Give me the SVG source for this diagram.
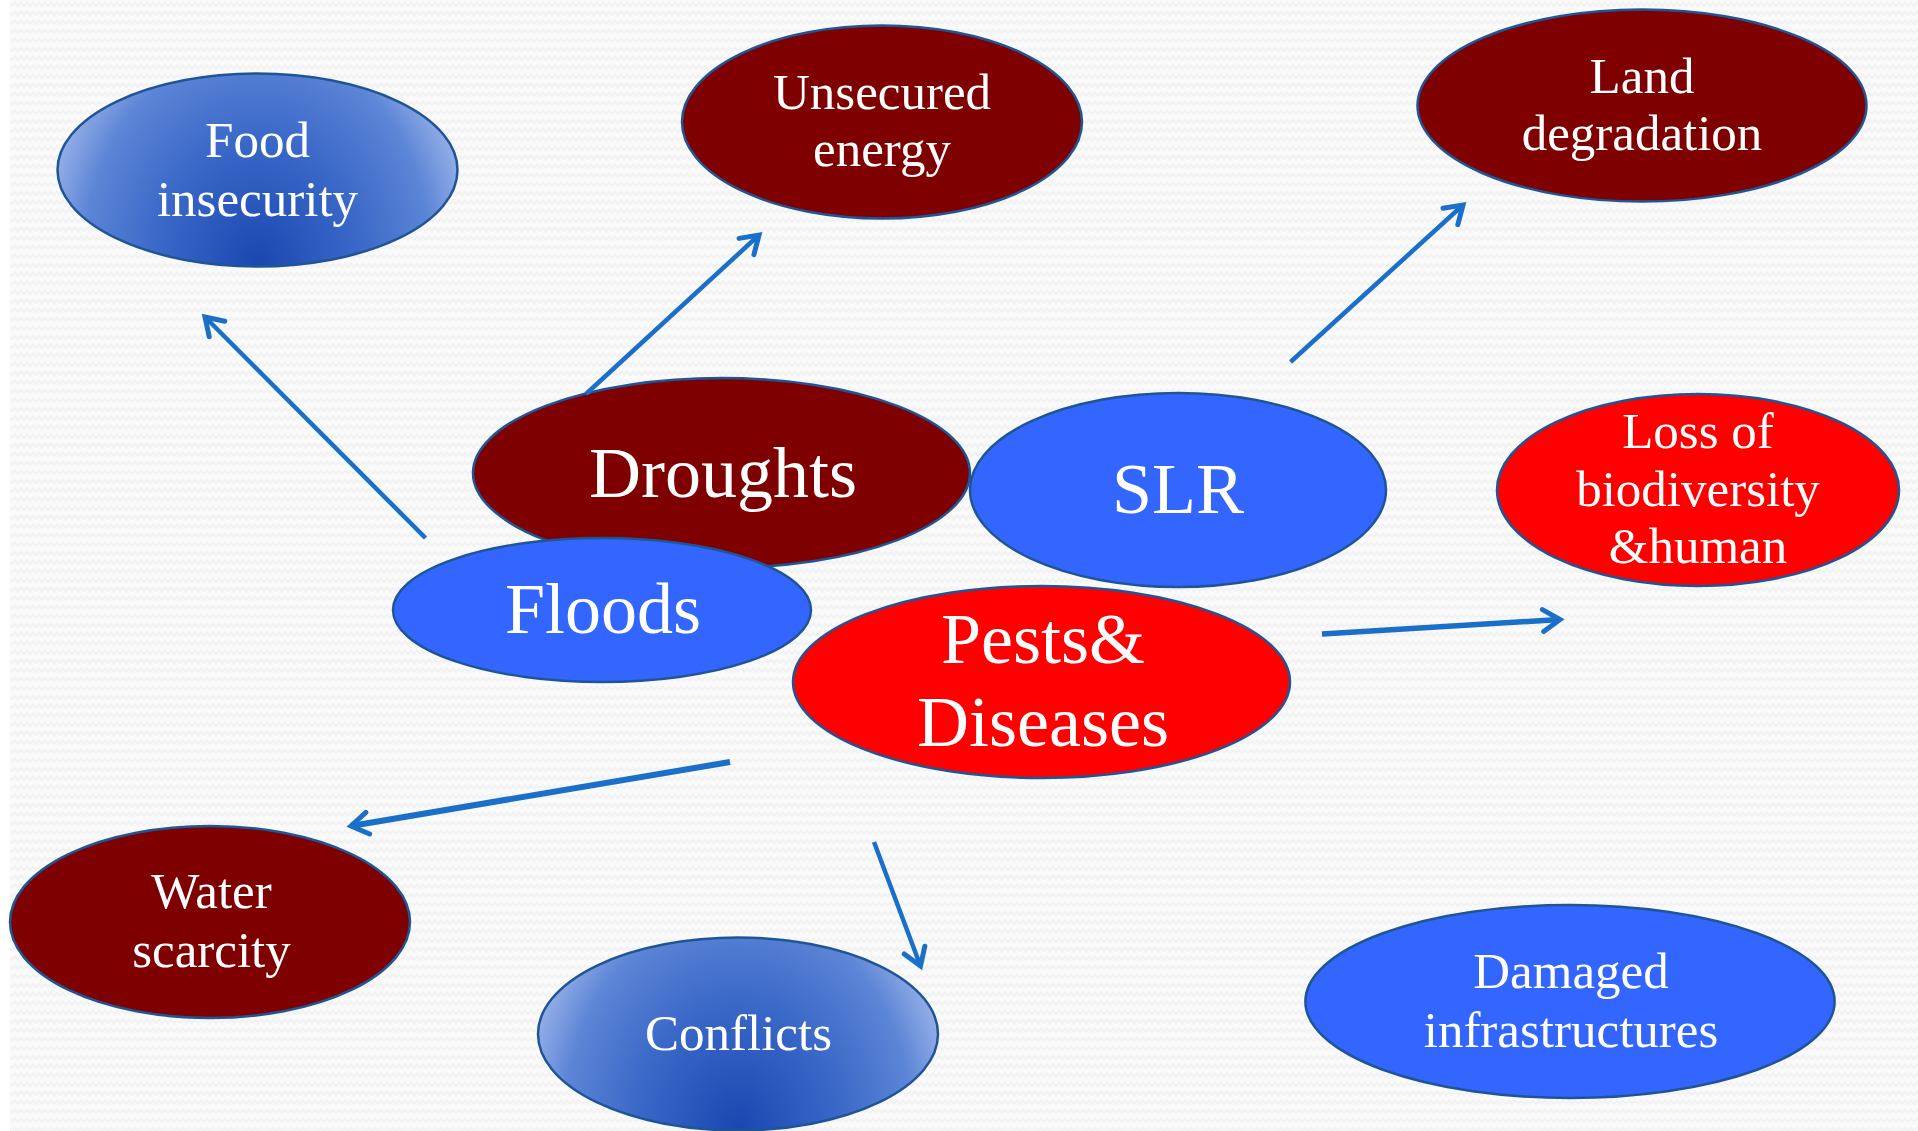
<svg xmlns="http://www.w3.org/2000/svg" width="1918" height="1131" viewBox="0 0 1918 1131">
<defs>
<pattern id="zig" width="12" height="9" patternUnits="userSpaceOnUse">
<rect width="12" height="9" fill="#fafafa"/>
<polyline points="0,6 3,2.5 6,6 9,2.5 12,6" fill="none" stroke="#f2f2f2" stroke-width="2"/>
</pattern>
<radialGradient id="gblue" cx="0.5" cy="1" r="1" gradientUnits="objectBoundingBox" gradientTransform="translate(0.5 1) scale(0.56 1.45) translate(-0.5 -1)">
<stop offset="0" stop-color="#1a47b0"/>
<stop offset="0.45" stop-color="#3a68c8"/>
<stop offset="0.78" stop-color="#5c85d6"/>
<stop offset="1" stop-color="#9db5ea"/>
</radialGradient>
<marker id="ah" markerUnits="userSpaceOnUse" markerWidth="40" markerHeight="40" viewBox="-30 -20 40 40" refX="0" refY="0" orient="auto" overflow="visible">
<path d="M-17,-11 L0,0 L-17,11" fill="none" stroke="#1a6fc9" stroke-width="5" stroke-linecap="round" stroke-linejoin="miter"/>
</marker>
</defs>
<style>
.n{stroke:#1f5596;stroke-width:2.5}
.dr{fill:#7f0000}
.bl{fill:#3366ff}
.rd{fill:#ff0000}
.gr{fill:url(#gblue)}
text{font-family:"Liberation Serif","Times New Roman",serif;fill:#ffffff;text-anchor:middle}
.s{font-size:51px}
.b{font-size:72px}
.c{stroke:#1a6fc9;fill:none;stroke-linecap:butt;marker-end:url(#ah)}
</style>
<rect width="1918" height="1131" fill="url(#zig)"/>
<rect width="10" height="1131" fill="#ffffff"/>

<g id="food-insecurity"><ellipse class="n gr" cx="257.5" cy="170" rx="200" ry="96.5"/><text class="s" x="257.5" y="157">Food</text><text class="s" x="257.5" y="216">insecurity</text></g>
<g id="unsecured-energy"><ellipse class="n dr" cx="882" cy="122" rx="200" ry="96.5"/><text class="s" x="882" y="109">Unsecured</text><text class="s" x="882" y="166">energy</text></g>
<g id="land-degradation"><ellipse class="n dr" cx="1642" cy="105.6" rx="224.5" ry="96"/><text class="s" x="1642" y="93">Land</text><text class="s" x="1642" y="150">degradation</text></g>
<g id="loss-biodiversity"><ellipse class="n rd" cx="1698" cy="490" rx="201" ry="96"/><text class="s" x="1698" y="448">Loss of</text><text class="s" x="1698" y="506">biodiversity</text><text class="s" x="1698" y="563">&amp;human</text></g>
<g id="droughts"><ellipse class="n dr" cx="721.5" cy="473" rx="248.5" ry="95"/><text class="b" x="723" y="497">Droughts</text></g>
<g id="slr"><ellipse class="n bl" cx="1178" cy="490" rx="208" ry="97"/><text class="b" x="1178" y="513">SLR</text></g>
<g id="floods"><ellipse class="n bl" cx="602" cy="610" rx="209" ry="72"/><text class="b" x="603" y="633">Floods</text></g>
<g id="pests-diseases"><ellipse class="n rd" cx="1041.5" cy="682" rx="248.5" ry="96"/><text class="b" x="1043" y="663">Pests&amp;</text><text class="b" x="1043" y="746">Diseases</text></g>
<g id="water-scarcity"><ellipse class="n dr" cx="210" cy="922" rx="200" ry="96"/><text class="s" x="211.5" y="908">Water</text><text class="s" x="211.5" y="967">scarcity</text></g>
<g id="conflicts"><ellipse class="n gr" cx="738" cy="1034" rx="200" ry="96.5"/><text class="s" x="738.5" y="1050">Conflicts</text></g>
<g id="damaged-infrastructures"><ellipse class="n bl" cx="1570" cy="1001.5" rx="264.6" ry="96.5"/><text class="s" x="1571" y="988">Damaged</text><text class="s" x="1571" y="1047">infrastructures</text></g>

<g id="connectors">
<line class="c" stroke-width="4.5" x1="425.5" y1="538" x2="205" y2="317"/>
<line class="c" stroke-width="4.5" x1="586" y1="394" x2="759" y2="235"/>
<line class="c" stroke-width="4.5" x1="1290.5" y1="362" x2="1463" y2="205"/>
<line class="c" stroke-width="5.5" x1="1322" y1="634" x2="1560" y2="619.5"/>
<line class="c" stroke-width="6" x1="730" y1="762" x2="351" y2="826"/>
<line class="c" stroke-width="4.5" x1="874" y1="842" x2="920.5" y2="966"/>
</g>
</svg>
